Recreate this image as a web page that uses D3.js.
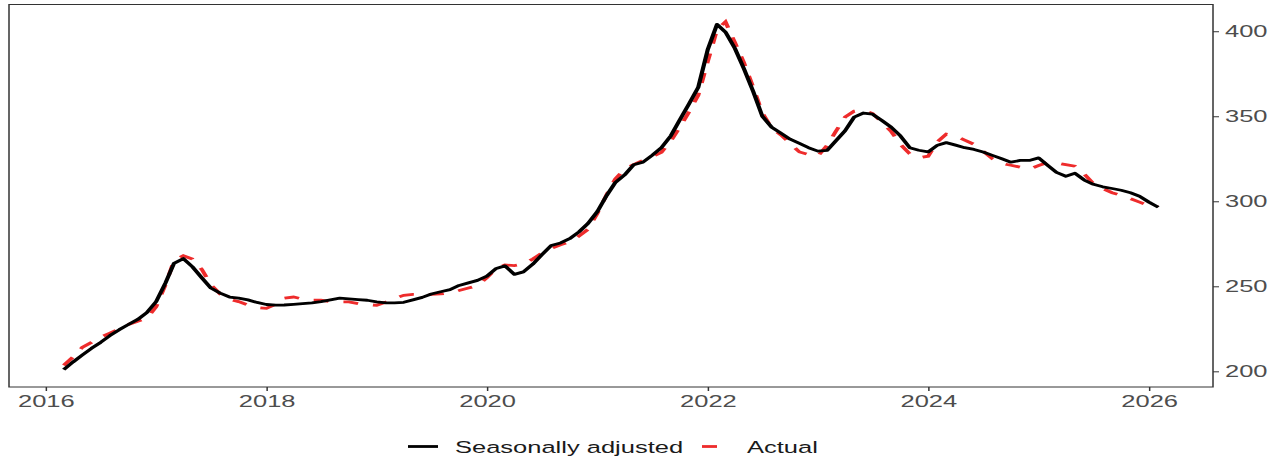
<!DOCTYPE html>
<html>
<head>
<meta charset="utf-8">
<script src="https://cdn.jsdelivr.net/npm/d3@7"></script>
<style>
  html, body { margin: 0; padding: 0; background: #fff; }
  svg { display: block; }
</style>
</head>
<body>
<svg id="chart" width="1279" height="457"></svg>
<script>
// ---------------- data ----------------
const months = [
  "2016-03","2016-04","2016-05","2016-06","2016-07","2016-08","2016-09","2016-10","2016-11","2016-12",
  "2017-01","2017-02","2017-03","2017-04","2017-05","2017-06","2017-07","2017-08","2017-09","2017-10","2017-11","2017-12",
  "2018-01","2018-02","2018-03","2018-04","2018-05","2018-06","2018-07","2018-08","2018-09","2018-10","2018-11","2018-12",
  "2019-01","2019-02","2019-03","2019-04","2019-05","2019-06","2019-07","2019-08","2019-09","2019-10","2019-11","2019-12",
  "2020-01","2020-02","2020-03","2020-04","2020-05","2020-06","2020-07","2020-08","2020-09","2020-10","2020-11","2020-12",
  "2021-01","2021-02","2021-03","2021-04","2021-05","2021-06","2021-07","2021-08","2021-09","2021-10","2021-11","2021-12",
  "2022-01","2022-02","2022-03","2022-04","2022-05","2022-06","2022-07","2022-08","2022-09","2022-10","2022-11","2022-12",
  "2023-01","2023-02","2023-03","2023-04","2023-05","2023-06","2023-07","2023-08","2023-09","2023-10","2023-11","2023-12",
  "2024-01","2024-02","2024-03","2024-04","2024-05","2024-06","2024-07","2024-08","2024-09","2024-10","2024-11","2024-12",
  "2025-01","2025-02","2025-03","2025-04","2025-05","2025-06","2025-07","2025-08","2025-09","2025-10","2025-11","2025-12",
  "2026-01","2026-02"
];

const seasonallyAdjusted = [
  201.0, 205.5, 209.5, 213.5, 217.0, 221.0, 224.5, 227.5, 230.5, 234.5,
  241.0, 252.0, 263.5, 266.3, 261.5, 255.0, 249.0, 246.0, 243.7, 243.0, 242.0, 240.5,
  239.3, 238.9, 239.0, 239.4, 239.8, 240.2, 241.0, 242.0, 243.0, 242.6, 242.2, 241.8,
  240.8, 240.2, 240.2, 240.6, 242.0, 243.5, 245.5, 246.8, 248.0, 250.5, 252.0, 253.5,
  256.0, 260.5, 262.0, 257.0, 258.5, 263.0, 268.5, 274.0, 275.5, 278.0, 282.0, 287.0,
  294.0, 303.5, 311.0, 315.5, 321.5, 323.0, 327.0, 331.5, 338.5, 348.0, 357.5, 367.0,
  389.0, 404.0, 399.5, 390.0, 378.0, 364.5, 350.0, 343.5, 340.0, 336.5, 334.0, 331.5,
  329.5, 330.0, 335.5, 341.5, 349.5, 351.9, 351.2, 347.5, 343.5, 338.5, 331.5, 330.0,
  329.0, 333.0, 334.5, 333.0, 331.5, 330.5, 329.0, 327.0, 325.0, 323.0, 324.0, 324.0,
  325.5, 321.0, 317.0, 314.7, 316.5, 312.5, 310.0, 308.5, 307.5, 306.5, 305.0, 303.0,
  299.5, 296.5
];

const actual = [
  203.5, 208.5, 214.0, 217.0, 220.0, 222.5, 225.0, 227.5, 229.5, 231.0,
  238.0, 251.0, 265.0, 268.0, 266.0, 260.0, 251.0, 245.5, 242.3, 241.0, 239.0, 237.4,
  237.0, 239.5, 243.0, 243.7, 242.5, 241.8, 241.8, 241.0, 240.8, 240.8, 239.8, 239.3,
  238.8, 240.8, 243.0, 244.7, 245.3, 245.3, 245.3, 245.5, 246.2, 247.5, 249.0, 250.3,
  255.0, 260.5, 262.5, 262.2, 263.0, 266.0, 269.5, 272.2, 274.4, 276.2, 279.5, 283.5,
  293.0, 304.0, 313.0, 319.0, 321.5, 324.0, 326.2, 328.8, 335.5, 343.6, 352.8, 362.5,
  382.0, 401.0, 405.5, 393.4, 381.5, 367.0, 352.0, 343.0, 339.0, 334.0, 329.0, 327.5,
  326.5, 333.0, 341.0, 349.5, 353.0, 353.5, 351.6, 346.5, 341.0, 333.5, 328.0, 325.5,
  326.5, 335.0, 339.5, 338.5, 336.0, 333.5, 329.5, 325.0, 322.2, 321.2, 320.0, 318.8,
  321.0, 323.0, 322.5, 321.5, 320.6, 316.0, 310.4, 307.5, 305.0, 303.5, 301.5, 299.5,
  297.5, 297.0
];

const xTickLabels = ["2016", "2018", "2020", "2022", "2024", "2026"];
const yTickValues = [200, 250, 300, 350, 400];
const seriesNames = ["Seasonally adjusted", "Actual"];

// ---------------- layout ----------------
// The reference image is horizontally stretched; draw in unstretched units, then scale.
const SX = 1.5;
const W = 1279, H = 457;
const panel = { left: 9 / SX, right: 1213 / SX, top: 4.5, bottom: 387 };
const font = "'Liberation Sans', Arial, Helvetica, sans-serif";

const parse = d3.timeParse("%Y-%m");
const dates = months.map(parse);

const svg = d3.select("#chart");
const g = svg.append("g").attr("transform", `scale(${SX},1)`);

// ggplot-like 5% expansion
const xExt = d3.extent(dates);
const xSpan = xExt[1] - xExt[0];
const x = d3.scaleTime()
  .domain([new Date(+xExt[0] - 0.05 * xSpan), new Date(+xExt[1] + 0.05 * xSpan)])
  .range([panel.left, panel.right]);

const allVals = seasonallyAdjusted.concat(actual);
const yExt = d3.extent(allVals);
const ySpan = yExt[1] - yExt[0];
const y = d3.scaleLinear()
  .domain([yExt[0] - 0.05 * ySpan, yExt[1] + 0.05 * ySpan])
  .range([panel.bottom, panel.top]);

// axes
const xAxis = d3.axisBottom(x)
  .tickValues(xTickLabels.map(s => new Date(+s, 0, 1)))
  .tickFormat(d3.timeFormat("%Y"))
  .tickSize(4).tickPadding(4);
const gx = g.append("g").attr("transform", `translate(0,${panel.bottom})`).call(xAxis);

const yAxis = d3.axisRight(y).tickValues(yTickValues).tickSize(4).tickPadding(4);
const gy = g.append("g").attr("transform", `translate(${panel.right},0)`).call(yAxis);

[gx, gy].forEach(ax => {
  ax.select(".domain").remove();
  ax.selectAll(".tick line").attr("stroke", "#333").attr("stroke-width", 1);
  ax.selectAll(".tick text")
    .attr("fill", "#4d4d4d")
    .style("font-family", font)
    .style("font-size", "17px");
});

// lines
const line = vals => d3.line()
  .x((d, i) => x(dates[i]))
  .y(d => y(d))(vals);

g.append("path")
  .attr("d", line(actual))
  .attr("fill", "none")
  .attr("stroke", "#ee2c2c")
  .attr("stroke-width", 2.8)
  .attr("stroke-dasharray", "10,10");

g.append("path")
  .attr("d", line(seasonallyAdjusted))
  .attr("fill", "none")
  .attr("stroke", "#000")
  .attr("stroke-width", 2.8)
  .attr("stroke-linejoin", "round");

// panel border
g.append("rect")
  .attr("x", panel.left).attr("y", panel.top)
  .attr("width", panel.right - panel.left)
  .attr("height", panel.bottom - panel.top)
  .attr("fill", "none")
  .attr("stroke", "#333")
  .attr("stroke-width", 1);

// legend
const legendY = 446.5;
const legend = [
  { name: seriesNames[0], color: "#000", dash: null, key: 408, text: 455 },
  { name: seriesNames[1], color: "#ee2c2c", dash: "10,10", key: 702, text: 747 }
];
legend.forEach(l => {
  g.append("line")
    .attr("x1", l.key / SX).attr("x2", (l.key + 30) / SX)
    .attr("y1", legendY).attr("y2", legendY)
    .attr("stroke", l.color).attr("stroke-width", 2.8)
    .attr("stroke-dasharray", l.dash);
  g.append("text")
    .attr("x", l.text / SX).attr("y", 453.5)
    .attr("fill", "#1a1a1a")
    .style("font-family", font)
    .style("font-size", "17px")
    .text(l.name);
});
</script>
</body>
</html>
